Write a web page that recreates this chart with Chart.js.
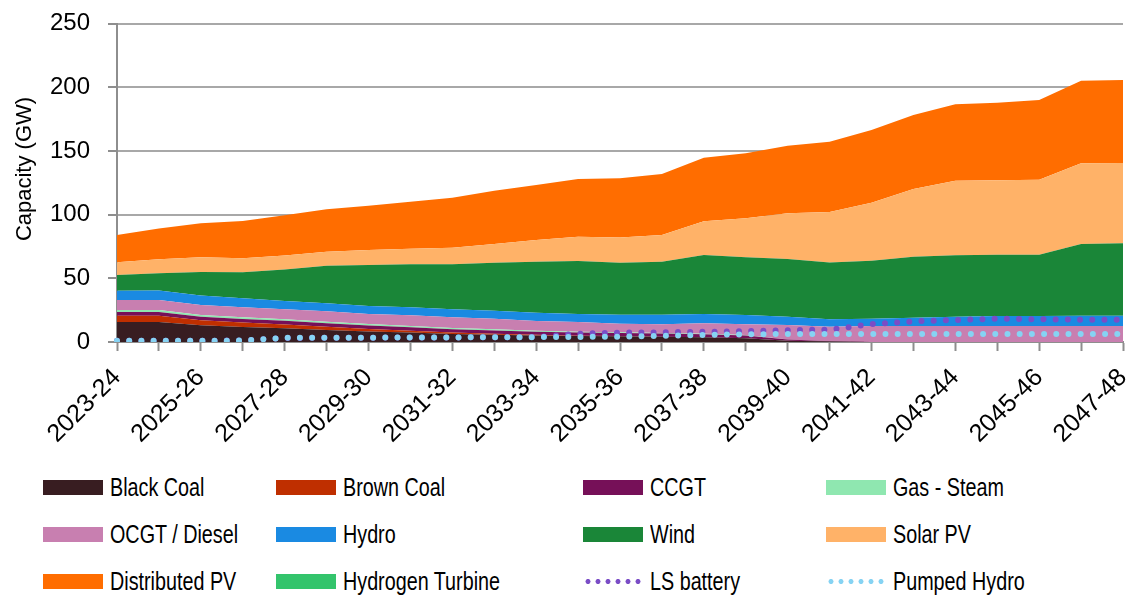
<!DOCTYPE html>
<html>
<head>
<meta charset="utf-8">
<title>Capacity (GW)</title>
<script src="https://cdn.jsdelivr.net/npm/chart.js@4.4.1/dist/chart.umd.min.js"></script>
<style>
  body { margin: 0; background: #fff; }
  #wrap { position: relative; width: 1136px; height: 598px; overflow: hidden; }
  #chartBox { position: absolute; left: 0; top: 0; width: 1136px; height: 460px; }
  .legend-item {
    position: absolute; display: flex; align-items: center; height: 30px;
    font-family: "Liberation Sans", Arial, sans-serif;
    font-size: 25px; line-height: 1; color: #000; white-space: nowrap;
  }
  .swatch { width: 60px; height: 15px; margin-right: 7px; flex: none; }
  /* the original legend uses a narrow face */
  .legend-text { display: inline-block; transform: scaleX(0.79); transform-origin: 0 50%; }
</style>
</head>
<body>
<div id="wrap">
  <div id="chartBox"><canvas id="capChart"></canvas></div>
  <div id="legend"></div>
</div>
<script>
const years = ['2023-24', '2024-25', '2025-26', '2026-27', '2027-28', '2028-29', '2029-30', '2030-31',
  '2031-32', '2032-33', '2033-34', '2034-35', '2035-36', '2036-37', '2037-38', '2038-39', '2039-40',
  '2040-41', '2041-42', '2042-43', '2043-44', '2044-45', '2045-46', '2046-47', '2047-48'];

// GW
const blackCoal = [15.7, 15.7, 13.1, 11.8, 10.8, 9.5, 8.3, 7.4, 6.2, 5.7, 5.1, 4.7, 4.5, 4.2, 3.8, 3.0, 1.0, 0.3, 0, 0, 0, 0, 0, 0, 0];
const brownCoal = [5.0, 5.0, 4.0, 3.5, 3.0, 2.5, 2.0, 1.5, 1.2, 0.8, 0.5, 0.3, 0.2, 0, 0, 0, 0, 0, 0, 0, 0, 0, 0, 0, 0];
const ccgt = [2.8, 2.8, 2.8, 2.8, 2.8, 2.7, 2.7, 2.6, 2.6, 2.6, 2.5, 2.5, 2.4, 2.4, 2.3, 2.2, 1.0, 0.3, 0, 0, 0, 0, 0, 0, 0];
const gasSteam = [1.6, 1.6, 1.3, 1.3, 1.2, 1.2, 1.1, 1.1, 1.0, 0.9, 0.8, 0.6, 0.5, 0.4, 0.3, 0.2, 0, 0, 0, 0, 0, 0, 0, 0, 0];
const ocgtDiesel = [7.9, 7.9, 7.8, 7.8, 7.9, 8.2, 7.9, 8.3, 8.4, 8.3, 7.6, 7.6, 6.7, 6.9, 8.3, 8.5, 11.3, 11.4, 12.6, 12.6, 12.6, 12.6, 12.6, 12.6, 12.6];
const hydro = [7.3, 7.5, 7.5, 7.1, 6.5, 6.3, 6.3, 6.3, 6.3, 6.3, 6.5, 6.3, 7.1, 7.5, 7.3, 7.3, 6.6, 5.8, 5.7, 6.5, 7.3, 7.8, 7.9, 8.0, 8.0];
const wind = [12.3, 13.4, 18.4, 20.4, 24.8, 29.5, 32.1, 33.8, 35.3, 37.7, 40.0, 41.6, 40.9, 41.6, 46.3, 45.3, 45.2, 44.7, 45.5, 47.9, 48.1, 48.1, 48.0, 56.3, 56.9];
const solarPv = [10.0, 11.0, 11.6, 11.0, 10.8, 11.0, 11.8, 12.2, 13.0, 14.6, 17.0, 19.1, 19.7, 21.0, 26.5, 30.6, 35.9, 39.5, 45.5, 53.0, 58.6, 58.4, 58.9, 63.4, 63.0];
const distributedPv = [21.4, 24.1, 26.7, 29.3, 31.6, 33.3, 34.8, 36.8, 39.3, 41.9, 43.2, 45.3, 46.5, 47.9, 49.9, 51.0, 53.1, 55.2, 57.1, 58.2, 60.0, 60.9, 62.6, 64.8, 65.1];
const hydrogenTurbine = [0, 0, 0, 0, 0, 0, 0, 0, 0, 0, 0, 0, 0, 0, 0, 0, 0, 0, 0, 0, 0, 0, 0, 0, 0];
// these two are plain lines, not part of the stack
const lsBattery = [1.0, 1.0, 1.0, 1.2, 3.2, 3.3, 3.4, 3.5, 3.6, 3.7, 3.9, 6.5, 7.3, 7.6, 8.0, 8.5, 9.3, 9.7, 14.0, 16.2, 17.2, 18.3, 17.8, 17.5, 17.5];
const pumpedHydro = [1.0, 1.0, 1.0, 1.1, 3.3, 3.4, 3.4, 3.5, 3.6, 3.7, 3.8, 4.0, 4.2, 4.8, 5.6, 6.0, 6.3, 6.3, 6.3, 6.3, 6.3, 6.3, 6.3, 6.3, 6.3];

const yTicks = [0, 50, 100, 150, 200, 250];

const areaSeries = [
  { label: 'Black Coal', data: blackCoal, color: '#381d21' },
  { label: 'Brown Coal', data: brownCoal, color: '#bf2f00' },
  { label: 'CCGT', data: ccgt, color: '#761058' },
  { label: 'Gas - Steam', data: gasSteam, color: '#8fe7b0' },
  { label: 'OCGT / Diesel', data: ocgtDiesel, color: '#c87fb0' },
  { label: 'Hydro', data: hydro, color: '#1a8ae2' },
  { label: 'Wind', data: wind, color: '#1a8638' },
  { label: 'Solar PV', data: solarPv, color: '#ffb268' },
  { label: 'Distributed PV', data: distributedPv, color: '#ff6d00' },
  { label: 'Hydrogen Turbine', data: hydrogenTurbine, color: '#33c46c' }
];
const lineSeries = [
  { label: 'Pumped Hydro', data: pumpedHydro, color: '#86d3f3' },
  { label: 'LS battery', data: lsBattery, color: '#7a4dc6' }
];

// lines go first so they are painted last (on top of the areas)
const datasets = [];
lineSeries.forEach((s, i) => {
  datasets.push({
    label: s.label,
    data: s.data,
    stack: 'line' + i,
    borderColor: s.color,
    backgroundColor: s.color,
    borderWidth: 6,
    borderDash: [0, 12.2],
    borderCapStyle: 'round',
    pointRadius: 0,
    fill: false,
    tension: 0
  });
});
areaSeries.forEach((s, i) => {
  datasets.push({
    label: s.label,
    data: s.data,
    stack: 'areas',
    borderColor: s.color,
    backgroundColor: s.color,
    borderWidth: 0,
    pointRadius: 0,
    fill: i === 0 ? 'origin' : '-1',
    tension: 0
  });
});

const axisGrey = '#8e8e8e';

const yTitlePlugin = {
  id: 'yTitle',
  afterDraw(chart) {
    const ctx = chart.ctx;
    ctx.save();
    ctx.translate(25, 169);
    ctx.rotate(-Math.PI / 2);
    ctx.font = '22px "Liberation Sans", Arial, sans-serif';
    ctx.fillStyle = '#000';
    ctx.textAlign = 'center';
    ctx.textBaseline = 'middle';
    ctx.fillText('Capacity (GW)', 0, 0);
    ctx.restore();
  }
};

Chart.defaults.font.family = '"Liberation Sans", Arial, sans-serif';
Chart.defaults.color = '#000';

new Chart(document.getElementById('capChart'), {
  type: 'line',
  data: { labels: years, datasets: datasets },
  options: {
    responsive: true,
    maintainAspectRatio: false,
    animation: false,
    layout: { padding: { top: 23.5, right: 13, left: 0, bottom: 0 } },
    plugins: { legend: { display: false }, tooltip: { enabled: false } },
    scales: {
      x: {
        grid: {
          display: true,
          drawOnChartArea: false,
          drawTicks: true,
          tickLength: 9,
          tickColor: axisGrey,
          tickWidth: 2
        },
        border: { display: true, color: axisGrey, width: 2 },
        ticks: {
          autoSkip: false,
          minRotation: 45,
          maxRotation: 45,
          padding: 12,
          font: { size: 25 },
          callback: (v, i) => (i % 2 === 0 ? years[i] : '')
        },
        afterFit: (scale) => {
          scale.height = 118;
          scale.paddingLeft = 0; scale.paddingRight = 0; scale.paddingTop = 0; scale.paddingBottom = 0;
        }
      },
      y: {
        stacked: true,
        min: 0,
        max: 250,
        afterBuildTicks: (scale) => { scale.ticks = yTicks.map(v => ({ value: v })); },
        grid: {
          color: (c) => (c.tick && c.tick.value === 0 ? 'rgba(0,0,0,0)' : '#a8a8a8'),
          lineWidth: 2,
          borderDash: [9, 5],
          tickColor: axisGrey,
          tickWidth: 2,
          tickLength: 9,
          tickBorderDash: []
        },
        border: { display: true, color: axisGrey, width: 2 },
        ticks: { padding: 18, font: { size: 24 } },
        afterFit: (scale) => {
          scale.width = 117;
          scale.paddingLeft = 0; scale.paddingRight = 0; scale.paddingTop = 0; scale.paddingBottom = 0;
        }
      }
    }
  },
  plugins: [yTitlePlugin]
});

// legend laid out in four fixed columns, like the original
const legendOrder = ['Black Coal', 'Brown Coal', 'CCGT', 'Gas - Steam', 'OCGT / Diesel', 'Hydro', 'Wind',
  'Solar PV', 'Distributed PV', 'Hydrogen Turbine', 'LS battery', 'Pumped Hydro'];
const legendCols = [43, 276, 583, 826];
const legendRows = [487, 534, 581];
const legendEl = document.getElementById('legend');
legendOrder.forEach((name, i) => {
  const area = areaSeries.find(s => s.label === name);
  const line = lineSeries.find(s => s.label === name);
  const item = document.createElement('div');
  item.className = 'legend-item';
  item.style.left = legendCols[i % 4] + 'px';
  item.style.top = (legendRows[Math.floor(i / 4)] - 15) + 'px';
  const sw = document.createElement('span');
  sw.className = 'swatch';
  if (area) {
    sw.style.background = area.color;
  } else {
    sw.style.background = 'radial-gradient(circle, ' + line.color + ' 2.2px, rgba(255,255,255,0) 2.8px) 0 0 / 10px 15px repeat-x';
  }
  item.appendChild(sw);
  const txt = document.createElement('span');
  txt.className = 'legend-text';
  txt.textContent = name;
  item.appendChild(txt);
  legendEl.appendChild(item);
});
</script>
</body>
</html>
